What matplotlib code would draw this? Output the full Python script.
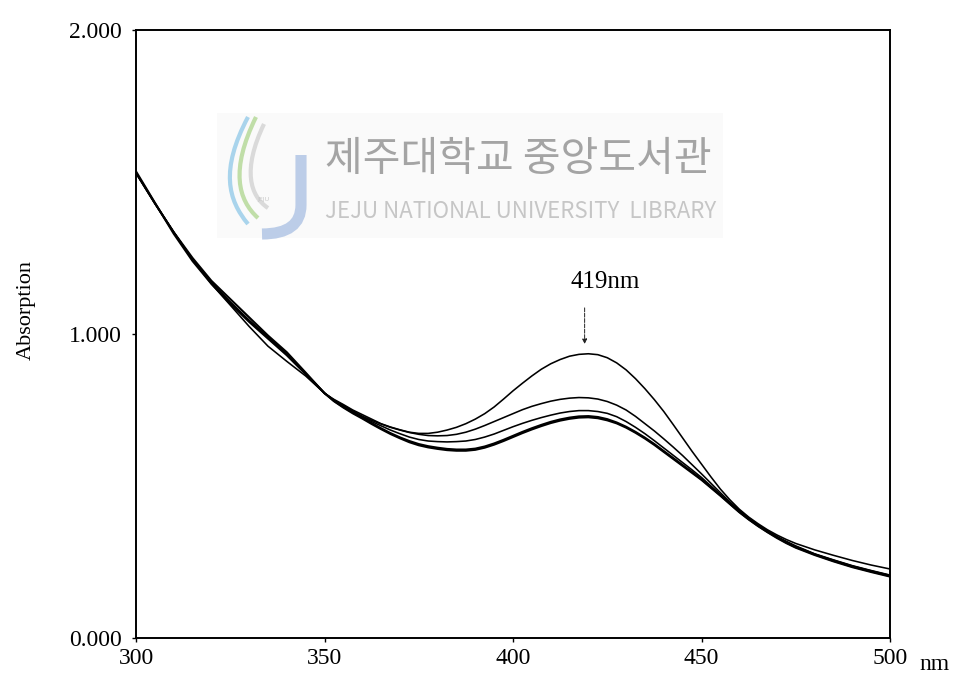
import matplotlib.pyplot as plt
import numpy as np
from matplotlib.path import Path
from matplotlib.patches import PathPatch, Rectangle

# wavelength grid (nm): 5 nm steps on the flanks, 2.5 nm through the band
wavelength = np.r_[np.arange(300, 350, 5), np.arange(350, 475, 2.5), np.arange(475, 501, 5)]

# absorbance
spectrum_a = [1.53, 1.43, 1.335, 1.245, 1.17, 1.105, 1.045, 0.99, 0.935, 0.87,
              0.805, 0.785, 0.768, 0.75, 0.735, 0.72, 0.705, 0.694, 0.685, 0.677,
              0.673, 0.673, 0.677, 0.684, 0.693, 0.705, 0.72, 0.738, 0.76, 0.786,
              0.813, 0.838, 0.862, 0.884, 0.902, 0.916, 0.927, 0.933, 0.935, 0.932,
              0.922, 0.905, 0.882, 0.853, 0.82, 0.784, 0.745, 0.702, 0.658, 0.614,
              0.572, 0.53, 0.49, 0.455, 0.424, 0.398, 0.376, 0.356, 0.339, 0.324,
              0.311, 0.29, 0.272, 0.255, 0.24, 0.227]
spectrum_b = [1.53, 1.43, 1.335, 1.245, 1.17, 1.105, 1.045, 0.99, 0.935, 0.87,
              0.805, 0.783, 0.765, 0.747, 0.73, 0.716, 0.704, 0.693, 0.684, 0.676,
              0.67, 0.666, 0.665, 0.666, 0.67, 0.677, 0.687, 0.699, 0.712, 0.725,
              0.738, 0.751, 0.762, 0.771, 0.779, 0.785, 0.789, 0.791, 0.79, 0.786,
              0.778, 0.766, 0.75, 0.729, 0.705, 0.681, 0.655, 0.628, 0.6, 0.57,
              0.54, 0.509, 0.478, 0.448, 0.42, 0.395, 0.372, 0.352, 0.334, 0.318,
              0.303, 0.277, 0.257, 0.238, 0.222, 0.207]
spectrum_c = [1.53, 1.43, 1.335, 1.245, 1.165, 1.095, 1.025, 0.96, 0.91, 0.862,
              0.805, 0.782, 0.762, 0.744, 0.728, 0.712, 0.698, 0.684, 0.672, 0.661,
              0.653, 0.648, 0.646, 0.645, 0.646, 0.648, 0.653, 0.661, 0.671, 0.683,
              0.695, 0.706, 0.716, 0.725, 0.733, 0.74, 0.745, 0.748, 0.748, 0.745,
              0.739, 0.728, 0.712, 0.693, 0.672, 0.649, 0.625, 0.601, 0.577, 0.553,
              0.528, 0.5, 0.472, 0.445, 0.418, 0.394, 0.371, 0.351, 0.333, 0.316,
              0.301, 0.276, 0.256, 0.237, 0.221, 0.206]
spectrum_d = [1.53, 1.43, 1.335, 1.25, 1.175, 1.115, 1.055, 0.995, 0.94, 0.873,
              0.805, 0.78, 0.76, 0.742, 0.725, 0.707, 0.69, 0.674, 0.66, 0.648,
              0.638, 0.631, 0.626, 0.622, 0.62, 0.62, 0.623, 0.63, 0.64, 0.652,
              0.665, 0.678, 0.69, 0.701, 0.711, 0.719, 0.725, 0.729, 0.73, 0.727,
              0.72, 0.709, 0.695, 0.678, 0.659, 0.638, 0.615, 0.592, 0.569, 0.546,
              0.522, 0.496, 0.47, 0.442, 0.415, 0.391, 0.369, 0.349, 0.331, 0.314,
              0.299, 0.275, 0.254, 0.235, 0.219, 0.204]
spectrum_e = [1.535, 1.432, 1.33, 1.24, 1.165, 1.1, 1.04, 0.985, 0.93, 0.868,
              0.806, 0.779, 0.758, 0.739, 0.722, 0.704, 0.687, 0.671, 0.657, 0.644,
              0.634, 0.627, 0.622, 0.618, 0.616, 0.616, 0.619, 0.626, 0.636, 0.648,
              0.661, 0.674, 0.686, 0.697, 0.707, 0.715, 0.721, 0.725, 0.726, 0.723,
              0.716, 0.706, 0.692, 0.675, 0.656, 0.635, 0.612, 0.589, 0.566, 0.543,
              0.52, 0.494, 0.468, 0.441, 0.414, 0.39, 0.368, 0.348, 0.329, 0.312,
              0.297, 0.273, 0.252, 0.233, 0.217, 0.202]

x_ticks = [300, 350, 400, 450, 500]
y_ticks = [0, 1, 2]
y_tick_labels = ['0.000', '1.000', '2.000']
peak_nm = 419

serif = 'Liberation Serif'
W, H = 967, 681

fig = plt.figure(figsize=(W / 100, H / 100), dpi=100)

# background layer for the library watermark (pixel coordinates)
bg = fig.add_axes([0, 0, 1, 1], zorder=0)
bg.set_xlim(0, W)
bg.set_ylim(H, 0)
bg.axis('off')
bg.add_patch(Rectangle((217, 113), 506, 125, facecolor='#fafafa', edgecolor='none'))
for pts, col in [([(248, 117), (220, 170), (228, 200), (248, 224)], '#a9d4ec'),
                 ([(256, 117), (230, 170), (238, 200), (258, 218)], '#c0dea8'),
                 ([(264, 124), (242, 170), (250, 196), (268, 208)], '#dadada')]:
    bg.add_patch(PathPatch(Path(pts, [Path.MOVETO, Path.CURVE4, Path.CURVE4, Path.CURVE4]),
                           facecolor='none', edgecolor=col, lw=3))
bg.add_patch(PathPatch(Path([(301, 155), (301, 205), (301, 234), (262, 234)],
                            [Path.MOVETO, Path.LINETO, Path.CURVE3, Path.CURVE3]),
                       facecolor='none', edgecolor='#bccde8', lw=8))
bg.text(263, 200, 'JEJU', fontsize=4.5, color='#c8c8c8', ha='center', va='center')
bg.text(325, 160, '제주대학교 중앙도서관', fontsize=29.5, color='#a4a4a4',
        family=['Noto Sans CJK KR', 'DejaVu Sans'], ha='left', va='center')
bg.text(325, 212, 'JEJU NATIONAL UNIVERSITY  LIBRARY', fontsize=16, color='#c6c6c6',
        family=['Noto Sans CJK KR', 'DejaVu Sans'], ha='left', va='center')

ax = fig.add_axes([136 / W, 1 - 638 / H, (890 - 136) / W, (638 - 30) / H], zorder=1)
ax.set_facecolor('none')

for s in [spectrum_a, spectrum_b, spectrum_c]:
    ax.plot(wavelength, s, color='black', lw=1.15)
for s in [spectrum_d, spectrum_e]:
    ax.plot(wavelength, s, color='black', lw=1.5)

ax.set_xlim(300, 500)
ax.set_ylim(0, 2)
ax.set_xticks(x_ticks)
ax.set_xticklabels([str(v) for v in x_ticks], family=serif, fontsize=17)
ax.set_yticks(y_ticks)
ax.set_yticklabels(y_tick_labels, family=serif, fontsize=17)
ax.tick_params(axis='x', direction='out', length=3, width=1, pad=4)
ax.tick_params(axis='y', direction='out', length=3, width=1, pad=7)
for sp in ax.spines.values():
    sp.set_linewidth(1.4)

ax.annotate('', xy=(peak_nm, 0.958), xytext=(peak_nm, 1.095),
            arrowprops=dict(arrowstyle='-|>', lw=0.7, color='#222222',
                            linestyle=(0, (4, 1.5)), mutation_scale=7))
ax.text(424.5, 1.135, f'{peak_nm}nm', family=serif, fontsize=18, ha='center', va='bottom')

fig.text(934 / W, 1 - 664 / H, 'nm', family=serif, fontsize=17, ha='center', va='center')
fig.text(26 / W, 1 - 310 / H, 'Absorption', family=serif, fontsize=16,
         rotation=90, ha='center', va='center')

fig.savefig('out.png', dpi=100, facecolor='white')
